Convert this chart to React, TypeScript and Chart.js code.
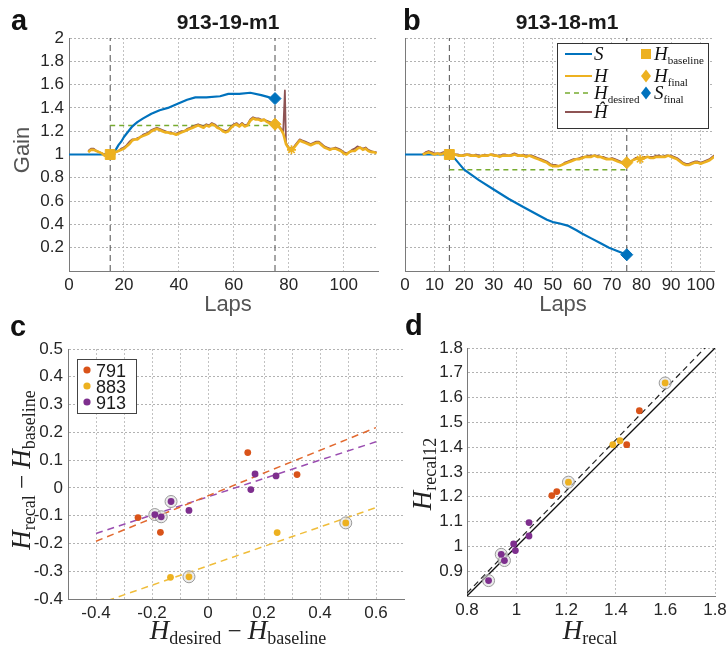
import React, { useEffect, useRef } from "react";
import { Chart, registerables } from "chart.js";

Chart.register(...registerables);

const PAGE_W = 726;
const PAGE_H = 647;

// ---------------- Panel a (913-19-m1) ----------------
const A_LAP_START = 7;
const A_H = [
  1.02, 1.04, 1.04, 1.03, 1.02, 1.01, 0.99, 1.0, 1.0, 1.01,
  1.02, 1.03, 1.04, 1.05, 1.07, 1.09, 1.12, 1.13, 1.13, 1.15,
  1.16, 1.17, 1.18, 1.2, 1.21, 1.22, 1.21, 1.2, 1.19, 1.19,
  1.18, 1.18, 1.17, 1.18, 1.19, 1.2, 1.21, 1.22, 1.23, 1.24,
  1.25, 1.24, 1.23, 1.25, 1.24, 1.26, 1.25, 1.23, 1.22, 1.2,
  1.19, 1.2, 1.23, 1.25, 1.26, 1.24, 1.26, 1.24, 1.25, 1.29,
  1.31, 1.3, 1.3, 1.29, 1.3, 1.28, 1.27, 1.26, 1.26, 1.25,
  1.22, 1.18, 1.09, 1.05, 1.04, 1.06, 1.09, 1.12, 1.11, 1.1,
  1.09, 1.08, 1.09, 1.1, 1.1, 1.08, 1.06, 1.05, 1.04, 1.05,
  1.05, 1.04, 1.03, 1.01, 1.0, 1.02, 1.03, 1.03, 1.05, 1.06,
  1.04, 1.05, 1.03, 1.02, 1.02, 1.01,
];
const A_HHAT = [
  1.03, 1.05, 1.05, 1.03, 1.02, 1.01, 1.0, 1.0, 1.0, 1.01,
  1.02, 1.03, 1.05, 1.06, 1.08, 1.11, 1.13, 1.13, 1.14, 1.15,
  1.17, 1.18, 1.19, 1.21, 1.22, 1.23, 1.22, 1.21, 1.2, 1.19,
  1.19, 1.18, 1.18, 1.19, 1.2, 1.2, 1.22, 1.23, 1.24, 1.25,
  1.26, 1.25, 1.24, 1.26, 1.25, 1.27, 1.26, 1.24, 1.22, 1.21,
  1.2, 1.21, 1.24, 1.26, 1.27, 1.25, 1.27, 1.25, 1.26, 1.3,
  1.32, 1.31, 1.31, 1.3, 1.3, 1.29, 1.28, 1.27, 1.26, 1.26,
  1.23, 1.2, 1.1, 1.06, 1.05, 1.07, 1.1, 1.13, 1.12, 1.11,
  1.1, 1.09, 1.1, 1.11, 1.11, 1.09, 1.07, 1.06, 1.05, 1.05,
  1.06, 1.05, 1.04, 1.02, 1.01, 1.02, 1.04, 1.05, 1.07, 1.06,
  1.05, 1.06, 1.04, 1.03, 1.02, 1.02,
];
const A_HHAT_SPIKE: [number, number] = [78.6, 1.55];
const A_S_LAPS = [0, 15, 16, 17, 18, 19, 20, 21, 22, 23, 24, 25, 27, 30, 33, 36, 40, 43, 46, 50, 55, 58, 62, 66, 70, 73, 75];
const A_S = [1.0, 1.0, 1.01, 1.04, 1.08, 1.11, 1.15, 1.18, 1.21, 1.24, 1.26, 1.28, 1.31, 1.35, 1.38, 1.4, 1.44, 1.47, 1.49, 1.49, 1.5, 1.52, 1.52, 1.53, 1.51, 1.49, 1.47];
const A_WINDOW = [15, 75];
const A_DESIRED = 1.25;
const A_H_BASELINE: [number, number] = [15, 1.0];
const A_H_FINAL: [number, number] = [75, 1.26];
const A_S_FINAL: [number, number] = [75, 1.48];
const A_STAR: [number, number] = [81, 1.04];
const A_X_MAX = 112.5;
const A_X_TICKS = [0, 20, 40, 60, 80, 100];

// ---------------- Panel b (913-18-m1) ----------------
const B_LAP_START = 6;
const B_H = [
  1.0, 1.01, 1.02, 1.01, 1.0, 1.01, 1.0, 1.01, 1.01, 1.0,
  0.99, 1.0, 0.99, 0.99, 0.99, 1.0, 0.99, 0.99, 0.99, 0.98,
  0.99, 0.99, 0.99, 1.0, 0.99, 0.99, 0.98, 0.99, 0.99, 0.99,
  0.99, 1.0, 0.99, 0.99, 0.99, 0.98, 0.99, 0.98, 0.97, 0.96,
  0.95, 0.94, 0.93, 0.91, 0.9, 0.9, 0.9, 0.91, 0.92, 0.93,
  0.94, 0.95, 0.96, 0.96, 0.97, 0.98, 0.98, 0.98, 0.99, 0.98,
  0.98, 0.97, 0.96, 0.96, 0.96, 0.95, 0.94, 0.93, 0.92, 0.92,
  0.93, 0.95, 0.96, 0.97, 0.96, 0.97, 0.98, 0.97, 0.97, 0.98,
  0.98, 0.98, 0.98, 0.99, 0.98, 0.97, 0.96, 0.94, 0.92, 0.91,
  0.91, 0.92, 0.93, 0.93, 0.92, 0.93, 0.94, 0.95, 0.97, 0.99,
];
const B_HHAT = [
  1.0, 1.02, 1.03, 1.02, 1.01, 1.01, 1.01, 1.02, 1.01, 1.01,
  1.0, 1.0, 1.0, 0.99, 1.0, 1.0, 1.0, 0.99, 1.0, 0.99,
  0.99, 1.0, 0.99, 1.0, 1.0, 0.99, 0.99, 1.0, 1.0, 0.99,
  1.0, 1.01, 1.0, 0.99, 1.0, 0.99, 0.99, 0.99, 0.98, 0.97,
  0.96, 0.95, 0.94, 0.92, 0.91, 0.91, 0.9, 0.91, 0.93, 0.94,
  0.95, 0.96, 0.96, 0.97, 0.98, 0.98, 0.99, 0.99, 0.99, 0.99,
  0.98, 0.98, 0.97, 0.96, 0.97, 0.96, 0.95, 0.94, 0.93, 0.92,
  0.94, 0.95, 0.97, 0.97, 0.97, 0.98, 0.98, 0.98, 0.98, 0.99,
  0.99, 0.98, 0.99, 0.99, 0.99, 0.98, 0.97, 0.95, 0.93, 0.92,
  0.92, 0.93, 0.94, 0.94, 0.93, 0.94, 0.95, 0.96, 0.98, 1.0,
];
const B_S_LAPS = [0, 15, 17, 20, 25, 30, 35, 40, 45, 48, 50, 52, 55, 58, 60, 63, 66, 69, 72, 75];
const B_S = [1.0, 1.0, 0.96, 0.87, 0.78, 0.7, 0.62, 0.55, 0.48, 0.44, 0.42, 0.41, 0.39, 0.35, 0.32, 0.28, 0.24, 0.2, 0.17, 0.14];
const B_WINDOW = [15, 75];
const B_DESIRED = 0.87;
const B_H_BASELINE: [number, number] = [15, 1.0];
const B_H_FINAL: [number, number] = [75, 0.93];
const B_S_FINAL: [number, number] = [75, 0.14];
const B_STAR: [number, number] = [79.5, 0.96];
const B_X_MAX = 104.5;
const B_X_TICKS = [0, 10, 20, 30, 40, 50, 60, 70, 80, 90, 100];

const GAIN_MIN = 0;
const GAIN_MAX = 2;
const GAIN_TICKS = [0, 0.2, 0.4, 0.6, 0.8, 1.0, 1.2, 1.4, 1.6, 1.8, 2.0];

// ---------------- Panel c ----------------
const C791_X = [-0.25, -0.17, 0.142, 0.318];
const C791_Y = [-0.107, -0.16, 0.127, 0.048];
const C791_CIRCLED: number[] = [];
const C883_X = [-0.134, -0.068, 0.247, 0.492];
const C883_Y = [-0.322, -0.32, -0.161, -0.126];
const C883_CIRCLED = [1, 3];
const C913_X = [-0.19, -0.167, -0.132, -0.068, 0.153, 0.168, 0.243];
const C913_Y = [-0.096, -0.104, -0.049, -0.081, -0.006, 0.05, 0.043];
const C913_CIRCLED = [0, 1, 2];
const C_FIT_X = [-0.4, 0.6];
const C_FIT_791 = [-0.192, 0.217];
const C_FIT_883 = [-0.42, -0.071];
const C_FIT_913 = [-0.164, 0.166];
const C_X_TICKS = [-0.5, -0.4, -0.3, -0.2, -0.1, 0, 0.1, 0.2, 0.3, 0.4, 0.5, 0.6];
const C_Y_TICKS = [-0.4, -0.3, -0.2, -0.1, 0, 0.1, 0.2, 0.3, 0.4, 0.5];
const C_LEGEND = ["791", "883", "913"];

// ---------------- Panel d ----------------
const D791_X = [1.142, 1.162, 1.444, 1.495];
const D791_Y = [1.205, 1.221, 1.41, 1.547];
const D791_CIRCLED: number[] = [];
const D883_X = [1.209, 1.388, 1.417, 1.599];
const D883_Y = [1.259, 1.41, 1.426, 1.659];
const D883_CIRCLED = [0, 3];
const D913_X = [0.887, 0.938, 0.951, 0.988, 0.995, 1.05, 1.05];
const D913_Y = [0.862, 0.968, 0.943, 1.01, 0.983, 1.096, 1.042];
const D913_CIRCLED = [0, 1, 2];
const D_IDENTITY_X = [0.8, 1.8];
const D_IDENTITY_Y = [0.8, 1.8];
const D_FIT_X = [0.8, 1.8];
const D_FIT_Y = [0.812, 1.842];
const D_X_TICKS = [0.8, 1.0, 1.2, 1.4, 1.6, 1.8];
const D_Y_TICKS = [0.8, 0.9, 1.0, 1.1, 1.2, 1.3, 1.4, 1.5, 1.6, 1.7, 1.8];

// ---------------- styles ----------------
const BLUE = "#0072BD";
const ORANGE = "#EDB120";
const GREEN = "#77AC30";
const BROWN = "#8E5454";
const RED = "#D95319";
const PURPLE = "#7E2F8E";
const WINDOW_COLOR = "#4d4d4d";
const TICK_COLOR = "#262626";
const AXIS_COLOR = "#7a7a7a";
const SANS = '"Liberation Sans", Arial, Helvetica, sans-serif';
const SERIF = '"Liberation Serif", "Times New Roman", serif';
const TICK_FONT = { family: SANS, size: 17 };
const GRID_H = { color: "#b2b2b2", dash: [2, 2] };
const GRID_V = { color: "#c2c2c2", dash: [2, 2] };

const fSans = (s: number, bold = false) => `${bold ? "bold " : ""}${s}px ${SANS}`;
const fSerif = (s: number, italic = false) => `${italic ? "italic " : ""}${s}px ${SERIF}`;

type Area = { l: number; t: number; r: number; b: number };
type Seg = [string, string, number?];

const A_AREA: Area = { l: 69, t: 38, r: 378, b: 271 };
const B_AREA: Area = { l: 405, t: 38, r: 714, b: 271 };
const C_AREA: Area = { l: 68, t: 349, r: 404, b: 599 };
const D_AREA: Area = { l: 467, t: 348, r: 715, b: 596 };

const pts = (xs: number[], ys: number[]) => xs.map((x, i) => ({ x, y: ys[i] }));
const seq = (start: number, ys: number[]) => ys.map((y, i) => ({ x: start + i, y }));
const pick = (xs: number[], ys: number[], idx: number[]) => idx.map((i) => ({ x: xs[i], y: ys[i] }));

const fmtTenth = (v: number) => String(Math.round(v * 10) / 10);
const fmtGain = (v: number) => (Math.abs(v) < 1e-9 ? "" : fmtTenth(v));
const fmtEven = (v: number) => (Math.round(v * 10) % 2 === 0 ? fmtTenth(v) : "");
const fmtInt = (v: number) => String(Math.round(v));
const fmtDY = (v: number) => (Math.abs(v - 0.8) < 1e-9 ? "" : fmtTenth(v));

function rich(ctx: CanvasRenderingContext2D, segs: Seg[], x: number, y: number, align = "center", rot = 0, color = "#111") {
  ctx.save();
  ctx.translate(x, y);
  ctx.rotate(rot);
  let total = 0;
  const ws = segs.map((s) => {
    ctx.font = s[1];
    const w = ctx.measureText(s[0]).width;
    total += w;
    return w;
  });
  let cx = align === "center" ? -total / 2 : align === "right" ? -total : 0;
  ctx.fillStyle = color;
  ctx.textBaseline = "alphabetic";
  ctx.textAlign = "left";
  segs.forEach((s, i) => {
    ctx.font = s[1];
    ctx.fillText(s[0], cx, s[2] || 0);
    cx += ws[i];
  });
  ctx.restore();
}

function overlay(draw: (ctx: CanvasRenderingContext2D) => void) {
  return { id: "overlay", afterDraw(chart: any) { draw(chart.ctx); } };
}

function lineDs(data: any[], color: string, width: number, dash: number[] = []) {
  return {
    data, showLine: true, borderColor: color, backgroundColor: color, borderWidth: width,
    borderDash: dash, pointRadius: 0, tension: 0, fill: false, borderJoinStyle: "round",
  };
}
function markerDs(p: [number, number][], style: string, radius: number, color: string) {
  return {
    data: p.map(([x, y]) => ({ x, y })), showLine: false, pointStyle: style, pointRadius: radius,
    backgroundColor: color, borderColor: color, borderWidth: 1,
  };
}
function starDs(p: [number, number][], color: string) {
  return {
    data: p.map(([x, y]) => ({ x, y })), showLine: false, pointStyle: "star", pointRadius: 4.5,
    backgroundColor: color, borderColor: color, borderWidth: 1.6,
  };
}
function dotDs(data: any[], color: string) {
  return { data, showLine: false, pointStyle: "circle", pointRadius: 3.4, backgroundColor: color, borderColor: color, borderWidth: 0 };
}
function ringDs(data: any[]) {
  return {
    data, showLine: false, pointStyle: "circle", pointRadius: 6,
    backgroundColor: "rgba(222,222,222,0.6)", borderColor: "#9a9a9a", borderWidth: 1,
  };
}

function xScale(area: Area, min: number, max: number, ticks: number[], fmt: (v: number) => string, grid: any, pad = 4) {
  return {
    type: "linear", position: "bottom", min, max,
    afterBuildTicks: (s: any) => { s.ticks = ticks.map((v) => ({ value: v })); },
    afterFit: (s: any) => { s.height = PAGE_H - area.b; s.paddingLeft = 0; s.paddingRight = 0; },
    ticks: { autoSkip: false, maxRotation: 0, minRotation: 0, padding: pad, color: TICK_COLOR, font: TICK_FONT, callback: (v: number) => fmt(v) },
    grid: { color: grid.color, drawTicks: false, lineWidth: 1 },
    border: { display: true, color: AXIS_COLOR, width: 1, dash: grid.dash },
  };
}
function yScale(area: Area, min: number, max: number, ticks: number[], fmt: (v: number) => string, grid: any, show = true, pad = 5) {
  return {
    type: "linear", position: "left", min, max,
    afterBuildTicks: (s: any) => { s.ticks = ticks.map((v) => ({ value: v })); },
    afterFit: (s: any) => { s.width = area.l; s.paddingTop = 0; s.paddingBottom = 0; },
    ticks: { display: show, autoSkip: false, padding: pad, color: TICK_COLOR, font: TICK_FONT, callback: (v: number) => fmt(v) },
    grid: { color: grid.color, drawTicks: false, lineWidth: 1 },
    border: { display: true, color: AXIS_COLOR, width: 1, dash: grid.dash },
  };
}
function baseOptions(area: Area, scales: any) {
  return {
    responsive: false, animation: false, events: [],
    layout: { padding: { left: 0, top: area.t, right: PAGE_W - area.r, bottom: 0 } },
    plugins: { legend: { display: false }, tooltip: { enabled: false }, title: { display: false } },
    scales,
  };
}

function withSpike(start: number, ys: number[], spike: [number, number]) {
  const arr = seq(start, ys);
  arr.push({ x: spike[0], y: spike[1] });
  arr.sort((a, b) => a.x - b.x);
  return arr;
}

function gainDatasets(
  start: number, h: number[], hhat: any[], sLaps: number[], s: number[], windowLaps: number[], desired: number,
  hBase: [number, number], hFinal: [number, number], sFinal: [number, number], star: [number, number]
) {
  return [
    markerDs([hBase], "rect", 7, ORANGE),
    markerDs([hFinal], "rectRot", 6, ORANGE),
    markerDs([sFinal], "rectRot", 6, BLUE),
    starDs([star], ORANGE),
    lineDs(seq(start, h), ORANGE, 2.6),
    lineDs(hhat, BROWN, 1.8),
    lineDs(pts(sLaps, s), BLUE, 2.2),
    lineDs([{ x: windowLaps[0], y: desired }, { x: windowLaps[1], y: desired }], GREEN, 1.5, [5, 4]),
    ...windowLaps.map((lap) => lineDs([{ x: lap, y: GAIN_MIN }, { x: lap, y: GAIN_MAX }], WINDOW_COLOR, 1, [6, 4])),
  ];
}

function buildA() {
  return {
    type: "scatter",
    data: {
      datasets: gainDatasets(A_LAP_START, A_H, withSpike(A_LAP_START, A_HHAT, A_HHAT_SPIKE), A_S_LAPS, A_S, A_WINDOW, A_DESIRED, A_H_BASELINE, A_H_FINAL, A_S_FINAL, A_STAR),
    },
    options: baseOptions(A_AREA, {
      x: xScale(A_AREA, 0, A_X_MAX, A_X_TICKS, fmtInt, GRID_V),
      y: yScale(A_AREA, GAIN_MIN, GAIN_MAX, GAIN_TICKS, fmtGain, GRID_H),
    }),
    plugins: [
      overlay((ctx) => {
        rich(ctx, [["a", fSans(29, true)]], 11, 30, "left", 0, "#111");
        rich(ctx, [["913-19-m1", fSans(21, true)]], 228, 29, "center", 0, "#1a1a1a");
        rich(ctx, [["Gain", fSans(22)]], 29, 150, "center", -Math.PI / 2, "#555");
        rich(ctx, [["Laps", fSans(22)]], 228, 311, "center", 0, "#555");
      }),
    ],
  };
}

function legendLine(ctx: CanvasRenderingContext2D, y: number, color: string, w: number, dash: number[]) {
  ctx.save();
  ctx.strokeStyle = color;
  ctx.lineWidth = w;
  ctx.setLineDash(dash);
  ctx.beginPath();
  ctx.moveTo(565, y);
  ctx.lineTo(592, y);
  ctx.stroke();
  ctx.restore();
}
function legendDiamond(ctx: CanvasRenderingContext2D, x: number, y: number, color: string) {
  ctx.save();
  ctx.fillStyle = color;
  ctx.beginPath();
  ctx.moveTo(x, y - 6.5);
  ctx.lineTo(x + 5, y);
  ctx.lineTo(x, y + 6.5);
  ctx.lineTo(x - 5, y);
  ctx.closePath();
  ctx.fill();
  ctx.restore();
}

function buildB() {
  return {
    type: "scatter",
    data: {
      datasets: gainDatasets(B_LAP_START, B_H, seq(B_LAP_START, B_HHAT), B_S_LAPS, B_S, B_WINDOW, B_DESIRED, B_H_BASELINE, B_H_FINAL, B_S_FINAL, B_STAR),
    },
    options: baseOptions(B_AREA, {
      x: xScale(B_AREA, 0, B_X_MAX, B_X_TICKS, fmtInt, GRID_V),
      y: yScale(B_AREA, GAIN_MIN, GAIN_MAX, GAIN_TICKS, fmtGain, GRID_H, false),
    }),
    plugins: [
      overlay((ctx) => {
        rich(ctx, [["b", fSans(29, true)]], 403, 30, "left", 0, "#111");
        rich(ctx, [["913-18-m1", fSans(21, true)]], 567, 29, "center", 0, "#1a1a1a");
        rich(ctx, [["Laps", fSans(22)]], 563, 311, "center", 0, "#555");
        // legend
        ctx.save();
        ctx.fillStyle = "#fff";
        ctx.fillRect(557, 43, 151, 85);
        ctx.strokeStyle = "#333";
        ctx.lineWidth = 1;
        ctx.strokeRect(557.5, 43.5, 151, 85);
        ctx.restore();
        legendLine(ctx, 54, BLUE, 2, []);
        legendLine(ctx, 76, ORANGE, 2, []);
        legendLine(ctx, 93, GREEN, 1.5, [5, 4]);
        legendLine(ctx, 112, BROWN, 2, []);
        const I = fSerif(19, true);
        const SUB = fSerif(11);
        rich(ctx, [["S", I]], 594, 60, "left", 0, "#111");
        rich(ctx, [["H", I]], 594, 82, "left", 0, "#111");
        rich(ctx, [["H", I], ["desired", SUB, 4]], 594, 99, "left", 0, "#111");
        rich(ctx, [["Ĥ", I]], 594, 118, "left", 0, "#111");
        ctx.save();
        ctx.fillStyle = ORANGE;
        ctx.fillRect(641, 49, 10, 10);
        ctx.restore();
        legendDiamond(ctx, 646, 76, ORANGE);
        legendDiamond(ctx, 646, 93, BLUE);
        rich(ctx, [["H", I], ["baseline", SUB, 4]], 654, 60, "left", 0, "#111");
        rich(ctx, [["H", I], ["final", SUB, 4]], 654, 82, "left", 0, "#111");
        rich(ctx, [["S", I], ["final", SUB, 4]], 654, 99, "left", 0, "#111");
      }),
    ],
  };
}

function buildC() {
  return {
    type: "scatter",
    data: {
      datasets: [
        dotDs(pts(C791_X, C791_Y), RED),
        dotDs(pts(C883_X, C883_Y), ORANGE),
        dotDs(pts(C913_X, C913_Y), PURPLE),
        ringDs([...pick(C791_X, C791_Y, C791_CIRCLED), ...pick(C883_X, C883_Y, C883_CIRCLED), ...pick(C913_X, C913_Y, C913_CIRCLED)]),
        lineDs(pts(C_FIT_X, C_FIT_791), "#E2692F", 1.5, [7, 5]),
        lineDs(pts(C_FIT_X, C_FIT_913), "#9A4DB0", 1.5, [7, 5]),
        lineDs(pts(C_FIT_X, C_FIT_883), "#F0BD3A", 1.5, [7, 5]),
      ],
    },
    options: baseOptions(C_AREA, {
      x: xScale(C_AREA, -0.5, 0.7, C_X_TICKS, fmtEven, GRID_V),
      y: yScale(C_AREA, -0.4, 0.5, C_Y_TICKS, fmtTenth, GRID_H),
    }),
    plugins: [
      overlay((ctx) => {
        rich(ctx, [["c", fSans(29, true)]], 10, 336, "left", 0, "#111");
        rich(ctx, [["H", fSerif(27, true)], ["recal", fSerif(18), 5], [" − ", fSerif(25)], ["H", fSerif(27, true)], ["baseline", fSerif(18), 5]], 30, 470, "center", -Math.PI / 2, "#222");
        rich(ctx, [["H", fSerif(27, true)], ["desired", fSerif(18), 5], [" − ", fSerif(25)], ["H", fSerif(27, true)], ["baseline", fSerif(18), 5]], 238, 639, "center", 0, "#222");
        // legend
        ctx.save();
        ctx.fillStyle = "#fff";
        ctx.fillRect(77, 359, 59, 54);
        ctx.strokeStyle = "#444";
        ctx.lineWidth = 1;
        ctx.strokeRect(77.5, 359.5, 59, 54);
        const cols = [RED, ORANGE, PURPLE];
        C_LEGEND.forEach((label, i) => {
          const y = 370 + i * 16;
          ctx.fillStyle = cols[i];
          ctx.beginPath();
          ctx.arc(87, y, 3.6, 0, Math.PI * 2);
          ctx.fill();
          ctx.fillStyle = "#1a1a1a";
          ctx.font = fSans(18);
          ctx.textAlign = "left";
          ctx.textBaseline = "alphabetic";
          ctx.fillText(label, 96, y + 6.5);
        });
        ctx.restore();
      }),
    ],
  };
}

function buildD() {
  return {
    type: "scatter",
    data: {
      datasets: [
        dotDs(pts(D791_X, D791_Y), RED),
        dotDs(pts(D883_X, D883_Y), ORANGE),
        dotDs(pts(D913_X, D913_Y), PURPLE),
        ringDs([...pick(D791_X, D791_Y, D791_CIRCLED), ...pick(D883_X, D883_Y, D883_CIRCLED), ...pick(D913_X, D913_Y, D913_CIRCLED)]),
        lineDs(pts(D_IDENTITY_X, D_IDENTITY_Y), "#111", 1.3),
        lineDs(pts(D_FIT_X, D_FIT_Y), "#222", 1.2, [6, 4]),
      ],
    },
    options: baseOptions(D_AREA, {
      x: xScale(D_AREA, 0.8, 1.8, D_X_TICKS, fmtTenth, GRID_V),
      y: yScale(D_AREA, 0.8, 1.8, D_Y_TICKS, fmtDY, GRID_H, true, 4),
    }),
    plugins: [
      overlay((ctx) => {
        rich(ctx, [["d", fSans(29, true)]], 405, 335, "left", 0, "#111");
        rich(ctx, [["H", fSerif(27, true)], ["recal12", fSerif(18), 5]], 431, 474, "center", -Math.PI / 2, "#222");
        rich(ctx, [["H", fSerif(27, true)], ["recal", fSerif(18), 5]], 590, 639, "center", 0, "#222");
      }),
    ],
  };
}

function ChartCanvas({ build }: { build: () => any }) {
  const ref = useRef<HTMLCanvasElement>(null);
  useEffect(() => {
    if (!ref.current) return;
    const chart = new Chart(ref.current, build());
    return () => chart.destroy();
  }, [build]);
  return (
    <canvas
      ref={ref}
      width={PAGE_W}
      height={PAGE_H}
      style={{ position: "absolute", left: 0, top: 0, width: PAGE_W, height: PAGE_H }}
    />
  );
}

export default function App() {
  return (
    <div style={{ position: "absolute", left: 0, top: 0, width: PAGE_W, height: PAGE_H, background: "#fff", overflow: "hidden" }}>
      <ChartCanvas build={buildA} />
      <ChartCanvas build={buildB} />
      <ChartCanvas build={buildC} />
      <ChartCanvas build={buildD} />
    </div>
  );
}
